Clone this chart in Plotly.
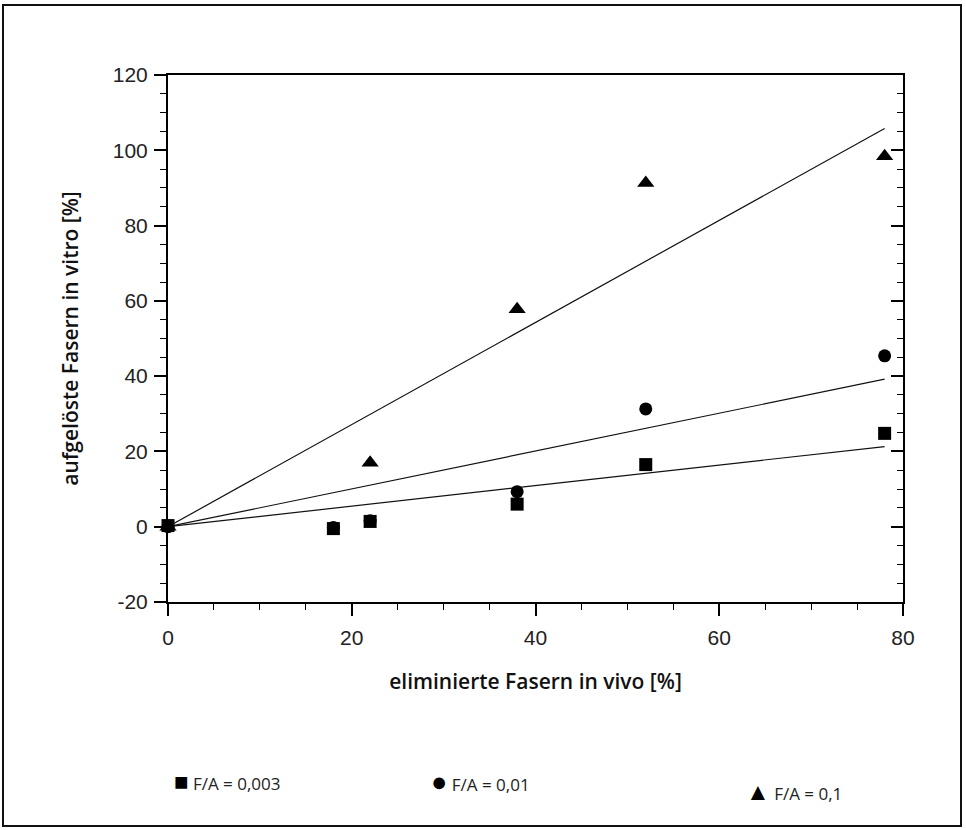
import plotly.graph_objects as go

# Measured values: eliminated fibres in vivo (x) vs dissolved fibres in vitro (y), in %
x_fa003 = [0, 18, 22, 38, 52, 78]
y_fa003 = [0.3, -0.5, 1.4, 6.0, 16.5, 24.8]

x_fa001 = [0, 18, 22, 38, 52, 78]
y_fa001 = [0, -0.2, 1.6, 9.3, 31.3, 45.4]

x_fa01 = [0, 22, 38, 52, 78]
y_fa01 = [0, 17.0, 57.8, 91.3, 98.4]

# Regression lines through the origin (end value at x = 78)
fit_x = [0, 78]
fit_fa003 = [0, 21.3]
fit_fa001 = [0, 39.2]
fit_fa01 = [0, 105.8]

legend_labels = ["F/A = 0,003", "F/A = 0,01", "F/A = 0,1"]
x_ticks = [0, 20, 40, 60, 80]
y_ticks = [-20, 0, 20, 40, 60, 80, 100, 120]
y_ticktext = ["-20", "0", "20", "40", "60", "80", "100", "120"]

x_title = "eliminierte Fasern in vivo [%]"
y_title = "aufgelöste Fasern in vitro [%]"

# Plot-area geometry (pixels) used to place elements outside the axes
W, H = 966, 830
L, R, T, B = 168, 63, 75, 228
PW, PH = W - L - R, H - T - B


def px_x(px):
    return (px - L) / PW


def px_y(py):
    return (H - B - py) / PH


fig = go.Figure()

for fy in (fit_fa003, fit_fa001, fit_fa01):
    fig.add_trace(go.Scatter(x=fit_x, y=fy, mode="lines",
                             line=dict(color="#111", width=1.2),
                             showlegend=False, hoverinfo="skip", cliponaxis=False))

fig.add_trace(go.Scatter(x=x_fa01, y=y_fa01, mode="markers", name=legend_labels[2],
                         marker=dict(symbol="triangle-up", size=15, color="#000"),
                         showlegend=False, cliponaxis=False))
fig.add_trace(go.Scatter(x=x_fa001, y=y_fa001, mode="markers", name=legend_labels[1],
                         marker=dict(symbol="circle", size=13, color="#000"),
                         showlegend=False, cliponaxis=False))
fig.add_trace(go.Scatter(x=x_fa003, y=y_fa003, mode="markers", name=legend_labels[0],
                         marker=dict(symbol="square", size=13, color="#000"),
                         showlegend=False, cliponaxis=False))

# empty trace so the right-hand tick axis is drawn
fig.add_trace(go.Scatter(x=[], y=[], yaxis="y2", showlegend=False, hoverinfo="skip"))

tick_font = dict(family="Liberation Sans, Arial, sans-serif", size=21, color="#222")
title_font = dict(family="Open Sans, sans-serif", size=21, color="#111", weight=600)

fig.update_layout(
    width=W, height=H,
    margin=dict(l=L, r=R, t=T, b=B, autoexpand=False),
    paper_bgcolor="white", plot_bgcolor="white",
    showlegend=False,
    xaxis=dict(
        range=[0, 80], tickvals=x_ticks, ticks="outside", ticklen=12, tickwidth=1.5,
        tickcolor="#000", showline=True, linecolor="#000", linewidth=1.5, mirror=True,
        showgrid=False, zeroline=False, tickfont=tick_font, ticklabelstandoff=4,
        minor=dict(dtick=5, ticks="outside", ticklen=6, tickwidth=1, tickcolor="#000"),
        title=dict(text=x_title, font=title_font, standoff=26),
    ),
    yaxis=dict(
        range=[-20, 120], tickvals=y_ticks, ticktext=y_ticktext, ticks="outside",
        ticklen=12, tickwidth=1.5,
        tickcolor="#000", showline=True, linecolor="#000", linewidth=2,
        showgrid=False, zeroline=False, tickfont=tick_font, ticklabelstandoff=2,
        minor=dict(dtick=5, ticks="outside", ticklen=6, tickwidth=1, tickcolor="#000"),
        title=dict(text=y_title, font=title_font, standoff=28),
    ),
    yaxis2=dict(
        range=[-20, 120], tickvals=y_ticks, overlaying="y", side="right", anchor="x",
        ticks="inside", ticklen=12, tickwidth=1.5, tickcolor="#000",
        showline=True, linecolor="#000", linewidth=1.5, showticklabels=False,
        showgrid=False, zeroline=False,
        minor=dict(dtick=5, ticks="inside", ticklen=6, tickwidth=1, tickcolor="#000"),
    ),
)

# Outer frame around the whole figure
fig.add_shape(type="rect", xref="paper", yref="paper",
              x0=px_x(3), x1=px_x(961), y0=px_y(826), y1=px_y(5),
              line=dict(color="#111", width=2), fillcolor="rgba(0,0,0,0)", layer="below")

# Legend row below the axis title
legend_font = dict(family="Open Sans, sans-serif", size=17, color="#222")
legend_items = [
    ("■", legend_labels[0], 172, 780, 24),
    ("●", legend_labels[1], 429, 780, 27),
    ("▲", legend_labels[2], 744, 790, 24),
]
for glyph, label, lx, ly, gsize in legend_items:
    fig.add_annotation(
        xref="paper", yref="paper", x=px_x(lx), y=px_y(ly),
        xanchor="left", yanchor="middle", showarrow=False,
        text=f"<span style='font-size:{gsize}px;color:#000'>{glyph}</span> {label}",
        font=legend_font,
    )

fig.write_html("out.html")
